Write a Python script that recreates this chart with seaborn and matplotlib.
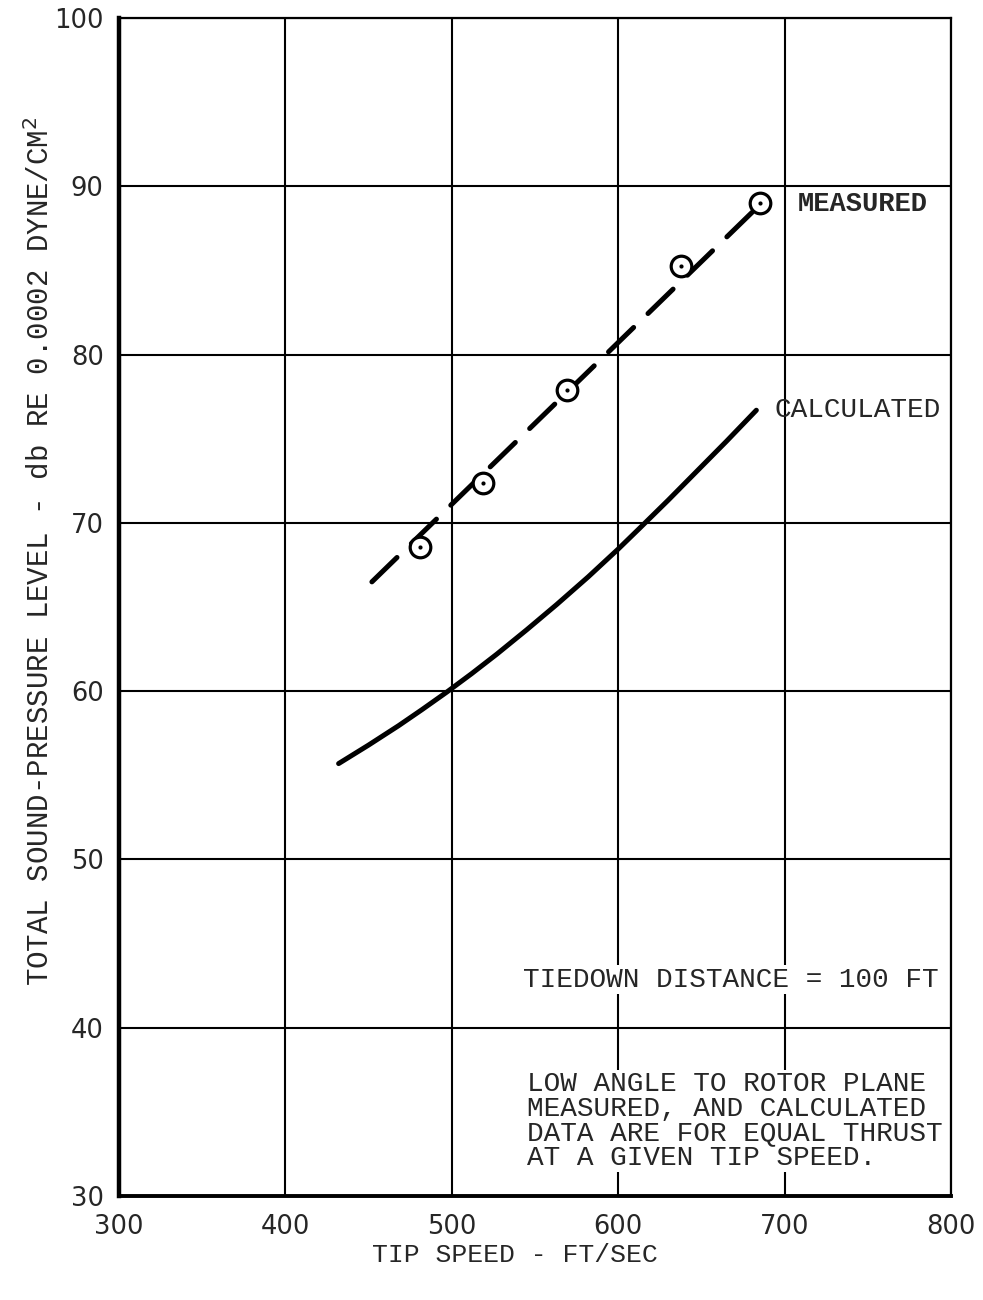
import matplotlib
matplotlib.use("Agg")
import matplotlib.pyplot as plt
import seaborn as sns

# ---- data ----
measured_x = [481, 519, 569, 638, 685]
measured_y = [68.6, 72.4, 77.9, 85.3, 89.0]

measured_fit_x = [452, 685]
measured_fit_y = [66.5, 88.9]

calculated_x = [432, 450, 468, 482, 497, 512, 527, 545, 563, 582, 600, 613, 630, 647, 665, 683]
calculated_y = [55.7, 56.8, 57.95, 58.9, 59.95, 61.05, 62.2, 63.65, 65.15, 66.8, 68.45, 69.7, 71.35, 73.05, 74.85, 76.7]

x_ticks = [300, 400, 500, 600, 700, 800]
y_ticks = [30, 40, 50, 60, 70, 80, 90, 100]

sns.set_style("white")
plt.rcParams['font.family'] = ['DejaVu Sans']
MONO = ['Liberation Mono', 'DejaVu Sans Mono']

fig = plt.figure(figsize=(9.83, 13.0), dpi=100)
ax = fig.add_axes([0.121, 0.080, 0.8465, 0.906])

# calculated curve
sns.lineplot(x=calculated_x, y=calculated_y, ax=ax, color='black', lw=3.6,
             solid_capstyle='round', solid_joinstyle='round', zorder=3)
# measured fit (dashed)
sns.lineplot(x=measured_fit_x, y=measured_fit_y, ax=ax, color='black', lw=3.6,
             linestyle=(0, (7, 4)), dash_capstyle='round', zorder=3)
# measured points: open circle with centre dot
sns.scatterplot(x=measured_x, y=measured_y, ax=ax, s=220, facecolor='white',
                edgecolor='black', linewidth=2.3, zorder=4)
sns.scatterplot(x=measured_x, y=measured_y, ax=ax, s=9, color='black',
                edgecolor='black', linewidth=0, zorder=5)

ax.set_xlim(300, 800)
ax.set_ylim(30, 100)
ax.set_xticks(x_ticks)
ax.set_yticks(y_ticks)
ax.set_xticklabels([str(v) for v in x_ticks], fontsize=18.5)
ax.set_yticklabels([str(v) for v in y_ticks], fontsize=18.5)
ax.tick_params(axis='both', length=0)
ax.tick_params(axis='x', pad=13)
ax.tick_params(axis='y', pad=11)

ax.grid(True, color='black', lw=1.5)
ax.set_axisbelow(True)
for side, lw in [('left', 3.2), ('bottom', 2.8), ('top', 1.6), ('right', 1.6)]:
    ax.spines[side].set_visible(True)
    ax.spines[side].set_color('black')
    ax.spines[side].set_linewidth(lw)

ax.set_xlabel('')
ax.set_ylabel('')

# annotations
ax.text(708, 88.95, 'MEASURED', family=MONO, fontsize=19.5, fontweight='bold',
        va='center', ha='left')
ax.text(694, 76.7, 'CALCULATED', family=MONO, fontsize=20,
        va='center', ha='left')
ax.text(543, 42.85, 'TIEDOWN DISTANCE = 100 FT', family=MONO, fontsize=20,
        va='center', ha='left', bbox=dict(facecolor='white', edgecolor='none', pad=1))
ax.text(545, 34.45, 'LOW ANGLE TO ROTOR PLANE\nMEASURED, AND CALCULATED\n'
        'DATA ARE FOR EQUAL THRUST\nAT A GIVEN TIP SPEED.',
        family=MONO, fontsize=20, va='center', ha='left', linespacing=0.93,
        bbox=dict(facecolor='white', edgecolor='none', pad=1))

fig.text(515 / 983, 1 - 1255 / 1300, 'TIP SPEED - FT/SEC', family=MONO,
         fontsize=19, ha='center', va='center')
fig.text(40 / 983, 1 - 551 / 1300,
         'TOTAL SOUND-PRESSURE LEVEL - db RE 0.0002 DYNE/CM$^2$',
         family=MONO, fontsize=21, rotation=90, ha='center', va='center')

fig.savefig('out.png', dpi=100)
